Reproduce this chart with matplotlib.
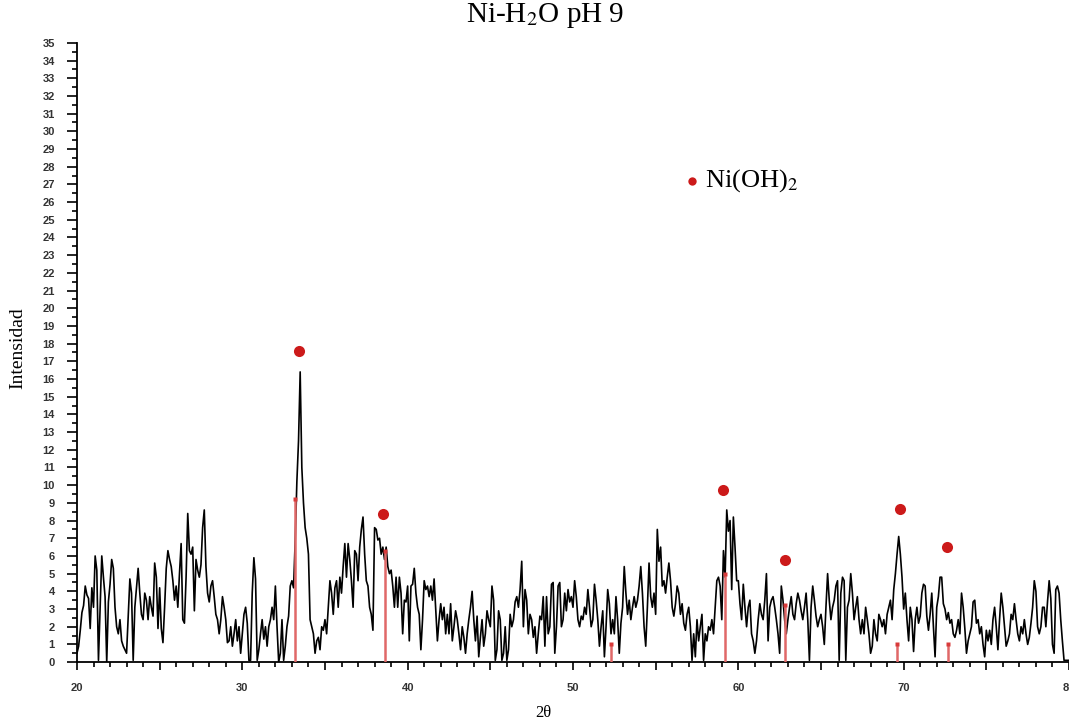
import numpy as np
import matplotlib
matplotlib.use('Agg')
import matplotlib.pyplot as plt
from matplotlib.ticker import MultipleLocator, FuncFormatter

# diffractogram, every 0.1 degree from 20 to 80
two_theta_start = 20.0
two_theta_step = 0.1

intensity = [
    0.5, 0.9, 1.8, 2.8, 3.2, 4.3, 3.8, 3.6, 1.9, 4.2,   # 20
    3.1, 6.0, 5.2, 0.1, 3.0, 6.0, 4.8, 3.7, 0.0, 3.4,   # 21
    4.4, 5.8, 5.3, 3.1, 2.0, 1.6, 2.4, 1.2, 0.9, 0.7,   # 22
    0.5, 2.6, 4.7, 3.9, 0.1, 3.1, 4.2, 5.3, 3.9, 2.7,   # 23
    2.4, 3.9, 3.5, 2.4, 3.7, 3.1, 2.6, 5.6, 4.8, 1.9,   # 24
    4.2, 1.9, 1.1, 3.1, 5.3, 6.3, 5.8, 5.4, 4.6, 3.5,   # 25
    4.3, 3.1, 5.0, 6.7, 2.4, 2.2, 4.8, 8.4, 6.3, 6.1,   # 26
    6.5, 2.9, 5.8, 5.2, 4.8, 5.5, 7.6, 8.6, 5.4, 3.9,   # 27
    3.4, 4.3, 4.6, 3.7, 2.7, 2.4, 1.6, 2.4, 3.7, 3.1,   # 28
    2.4, 1.1, 1.2, 2.0, 0.9, 1.6, 2.4, 1.2, 2.0, 0.5,   # 29
    1.6, 2.7, 3.1, 2.2, 0.1, 0.1, 3.9, 5.9, 4.7, 0.1,   # 30
    0.7, 1.6, 2.4, 1.3, 2.0, 0.9, 2.0, 2.4, 3.1, 2.4,   # 31
    4.3, 2.0, 0.0, 0.5, 2.4, 0.1, 0.9, 2.0, 2.6, 4.3,   # 32
    4.6, 4.2, 6.9, 10.2, 12.5, 16.4, 11.0, 9.0, 7.6, 7.0,   # 33
    6.1, 2.4, 2.0, 1.6, 0.5, 1.2, 1.4, 0.7, 2.0, 1.8,   # 34
    2.4, 1.6, 3.1, 4.6, 3.9, 2.7, 4.2, 4.6, 3.1, 4.8,   # 35
    3.9, 5.4, 6.7, 4.8, 6.7, 5.8, 4.6, 3.1, 6.3, 6.1,   # 36
    4.6, 6.5, 7.5, 8.2, 6.1, 4.6, 4.3, 3.1, 2.7, 1.8,   # 37
    7.6, 7.5, 6.9, 7.0, 6.1, 6.5, 5.8, 6.5, 5.4, 5.0,   # 38
    5.2, 4.3, 3.1, 4.8, 3.1, 4.8, 3.9, 1.6, 3.5, 3.4,   # 39
    4.3, 1.2, 4.3, 4.4, 5.3, 3.9, 3.1, 2.7, 0.7, 2.4,   # 40
    4.6, 4.1, 4.3, 3.7, 4.3, 3.5, 4.7, 2.9, 1.2, 2.4,   # 41
    3.3, 2.4, 3.1, 1.6, 2.7, 1.6, 3.3, 1.2, 2.0, 2.9,   # 42
    2.4, 1.6, 0.7, 2.0, 1.4, 0.5, 1.6, 2.4, 3.1, 4.0,   # 43
    2.4, 1.2, 2.6, 0.3, 1.4, 2.4, 0.9, 1.6, 2.9, 2.4,   # 44
    2.0, 4.3, 3.5, 0.1, 0.7, 2.9, 2.4, 0.1, 0.5, 2.0,   # 45
    0.1, 0.7, 2.7, 2.0, 2.4, 3.4, 3.7, 3.1, 4.1, 5.7,   # 46
    2.0, 4.1, 3.5, 1.6, 2.7, 2.4, 1.4, 2.0, 0.5, 1.6,   # 47
    2.6, 2.4, 3.7, 0.9, 3.7, 1.6, 2.0, 4.4, 4.5, 0.5,   # 48
    2.0, 4.3, 4.5, 2.0, 2.4, 3.9, 2.9, 4.1, 3.4, 3.7,   # 49
    3.1, 4.6, 3.7, 2.4, 2.0, 2.6, 2.4, 3.1, 2.7, 4.1,   # 50
    3.1, 2.0, 2.4, 4.4, 3.5, 2.4, 0.9, 2.0, 2.9, 0.3,   # 51
    2.0, 4.1, 3.3, 1.6, 2.4, 1.6, 3.7, 2.4, 0.5, 2.2,   # 52
    3.1, 5.4, 3.9, 2.7, 3.5, 2.4, 3.1, 3.7, 3.1, 3.5,   # 53
    4.3, 5.4, 3.9, 2.0, 0.9, 3.1, 5.6, 3.7, 3.1, 3.9,   # 54
    2.7, 7.5, 5.7, 6.5, 4.3, 4.6, 3.9, 4.8, 5.6, 4.6,   # 55
    3.1, 2.6, 3.3, 4.3, 3.9, 2.7, 3.3, 2.2, 1.8, 2.7,   # 56
    3.1, 2.0, 0.1, 1.6, 0.3, 2.4, 1.2, 2.0, 2.7, 0.1,   # 57
    1.6, 1.2, 2.0, 1.8, 2.4, 1.6, 3.1, 4.6, 4.8, 4.3,   # 58
    2.4, 6.3, 4.8, 8.6, 7.4, 8.0, 4.1, 8.2, 6.5, 4.6,   # 59
    4.6, 3.3, 2.4, 4.4, 3.1, 2.0, 3.1, 3.5, 1.6, 1.2,   # 60
    0.5, 1.2, 2.4, 3.3, 2.7, 2.4, 3.5, 5.0, 1.2, 3.1,   # 61
    3.5, 3.7, 3.1, 2.4, 1.6, 0.5, 4.3, 3.5, 2.4, 1.6,   # 62
    2.4, 3.1, 3.7, 2.7, 2.4, 3.3, 3.9, 3.5, 2.9, 2.4,   # 63
    3.1, 3.9, 2.4, 0.1, 3.1, 4.3, 3.5, 2.6, 2.0, 2.4,   # 64
    2.7, 2.0, 1.0, 3.1, 5.0, 3.5, 2.4, 3.1, 3.5, 4.3,   # 65
    4.6, 0.1, 3.9, 4.8, 4.6, 0.1, 3.1, 3.5, 5.0, 3.9,   # 66
    2.4, 3.1, 3.7, 2.4, 1.6, 2.4, 1.6, 3.1, 2.4, 1.6,   # 67
    0.5, 0.9, 2.4, 1.6, 1.2, 2.7, 2.4, 2.0, 2.4, 1.6,   # 68
    2.7, 3.1, 3.5, 2.4, 4.1, 5.0, 6.1, 7.1, 6.1, 4.8,   # 69
    3.0, 3.9, 2.4, 1.2, 3.1, 2.4, 0.6, 2.4, 3.1, 2.2,   # 70
    2.6, 3.9, 4.4, 4.3, 2.6, 1.8, 2.7, 3.9, 2.0, 0.3,   # 71
    3.1, 3.7, 4.8, 4.8, 3.3, 3.0, 2.4, 2.8, 2.2, 2.4,   # 72
    1.6, 1.4, 1.8, 2.4, 1.6, 3.9, 3.1, 1.9, 0.5, 1.2,   # 73
    1.6, 2.0, 3.4, 3.5, 2.2, 2.4, 1.6, 2.0, 1.0, 0.3,   # 74
    1.8, 1.2, 1.8, 1.0, 2.4, 3.1, 2.0, 0.7, 2.4, 3.9,   # 75
    3.1, 2.0, 0.9, 1.2, 1.6, 2.7, 2.4, 3.3, 2.4, 1.6,   # 76
    1.2, 2.0, 1.6, 2.4, 1.6, 1.0, 1.4, 2.2, 3.1, 4.6,   # 77
    4.0, 2.0, 1.6, 2.0, 3.1, 3.1, 2.0, 3.4, 4.6, 3.6,   # 78
    1.0, 0.5, 4.1, 4.3, 3.9, 2.4, 1.2, 0.1, 0.1, 0.1,   # 79
    0.1,
]

# Ni(OH)2 reference pattern (red sticks)
stick_pos = [33.2, 38.65, 52.3, 59.2, 62.8, 69.6, 72.7]
stick_height = [9.2, 6.3, 1.0, 5.0, 3.2, 1.0, 1.0]

# big markers placed over the indexed peaks
marker_pos = [33.4, 38.5, 59.1, 62.8, 69.8, 72.65]
marker_height = [17.6, 8.35, 9.75, 5.75, 8.65, 6.5]

two_theta = two_theta_start + two_theta_step * np.arange(len(intensity))

plt.rcParams['mathtext.fontset'] = 'stix'
serif = 'Liberation Serif'
red = '#cc1a1a'

fig = plt.figure(figsize=(10.69, 7.26), dpi=100)
ax = fig.add_axes((0.072, 0.088, 0.928, 0.853))

ax.plot(two_theta, intensity, color='black', lw=1.2, zorder=2)
ax.vlines(stick_pos, 0, stick_height, color='#e06868', lw=1.8, zorder=3)
ax.plot(stick_pos, stick_height, 's', ms=3.5, color='#d83a3a', mec='none', zorder=4)
ax.plot(marker_pos, marker_height, 'o', ms=8, color=red, mec='none', zorder=4)

# legend entry
ax.plot([57.2], [27.2], 'o', ms=6, color=red, mec='none', clip_on=False)
ax.text(58.0, 27.2, r'Ni(OH)$_2$', fontsize=19, family=serif, va='center', ha='left')

ax.set_xlim(20, 80)
ax.set_ylim(0, 35)

ax.xaxis.set_major_locator(MultipleLocator(5))
ax.xaxis.set_minor_locator(MultipleLocator(1))
ax.xaxis.set_major_formatter(FuncFormatter(lambda v, p: '%d' % v if v % 10 == 0 else ''))
ax.yaxis.set_major_locator(MultipleLocator(1))
ax.yaxis.set_minor_locator(MultipleLocator(0.5))

for s in ['top', 'right']:
    ax.spines[s].set_visible(False)
for s in ['left', 'bottom']:
    ax.spines[s].set_linewidth(1.3)

ax.tick_params(axis='x', which='major', length=6, width=1.2, pad=9)
ax.tick_params(axis='x', which='minor', length=3.5, width=1.2)
ax.tick_params(axis='y', which='major', length=7, width=1.2, pad=9)
ax.tick_params(axis='y', which='minor', length=3.5, width=1.2)
for lab in ax.get_xticklabels() + ax.get_yticklabels():
    lab.set_family('Liberation Sans')
    lab.set_fontsize(8)
    lab.set_fontweight('bold')
    lab.set_color('#333333')

fig.text(0.51, 0.978, r'Ni-H$_2$O pH 9', fontsize=21, family=serif, ha='center', va='center')
fig.text(0.017, 0.52, 'Intensidad', fontsize=14, family=serif, rotation=90, ha='center', va='center')
fig.text(0.508, 0.018, '2\u03b8', fontsize=12, family=serif, ha='center', va='center')

fig.savefig('out.png', dpi=100)
